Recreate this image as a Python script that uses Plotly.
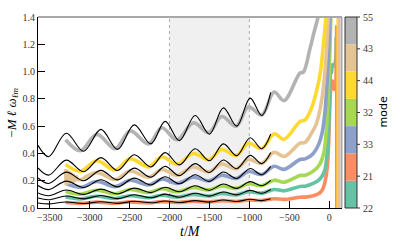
import plotly.graph_objects as go

# ---------------- data ----------------
MODES = ["22", "21", "33", "32", "44", "43", "55"]          # colorbar order, bottom -> top
MODE_COLORS = ["#66c2a5", "#fc8d62", "#8da0cb", "#a6d854", "#ffd92f", "#e5c494", "#b3b3b3"]

# model (black) curves, extrema times
T_MODEL = [-3645, -3512, -3291, -3075, -2858, -2650, -2441, -2233, -2054,
           -1875, -1679, -1500, -1325, -1158, -991, -845, -733]
MODEL_55 = [0.459, 0.376, 0.548, 0.416, 0.576, 0.430, 0.609, 0.470, 0.635,
            0.494, 0.678, 0.541, 0.734, 0.600, 0.805, 0.678, 0.847]
MODEL_44 = [0.294, 0.241, 0.351, 0.266, 0.369, 0.275, 0.390, 0.301, 0.406,
            0.316, 0.434, 0.346, 0.470, 0.384, 0.515, 0.434, 0.542]
MODEL_43 = [0.220, 0.180, 0.263, 0.200, 0.276, 0.206, 0.292, 0.226, 0.305,
            0.237, 0.325, 0.260, 0.352, 0.288, 0.386, 0.325, 0.407]
MODEL_33 = [0.165, 0.135, 0.197, 0.150, 0.207, 0.155, 0.219, 0.169, 0.229,
            0.178, 0.244, 0.195, 0.264, 0.216, 0.290, 0.244, 0.305]
MODEL_32 = [0.110, 0.090, 0.132, 0.100, 0.138, 0.103, 0.146, 0.113, 0.152,
            0.119, 0.163, 0.130, 0.176, 0.144, 0.193, 0.163, 0.203]
MODEL_22 = [0.073, 0.060, 0.088, 0.067, 0.092, 0.069, 0.097, 0.075, 0.102,
            0.079, 0.108, 0.087, 0.117, 0.096, 0.129, 0.108, 0.136]
MODEL_21 = [0.037, 0.030, 0.044, 0.033, 0.046, 0.034, 0.049, 0.038, 0.051,
            0.040, 0.054, 0.043, 0.059, 0.048, 0.064, 0.054, 0.068]

# numerical-relativity (coloured) curves
T_NR = [-3300, -3116, -2908, -2680, -2491, -2262, -2096, -1908, -1700,
        -1508, -1346, -1166, -1012, -845, -690, -566]

NR55_T = T_NR + [-366, -325, -241, -190, -137, -100]
NR55_V = [0.50, 0.42, 0.54, 0.435, 0.565, 0.47, 0.588, 0.50, 0.624, 0.553, 0.67, 0.60,
          0.741, 0.682, 0.85, 0.787, 0.99, 0.995, 1.17, 1.29, 1.41, 1.6]

NR44_T = T_NR + [-366, -304, -230, -158, -110, -75, -41, -25]
NR44_V = [0.320, 0.269, 0.346, 0.278, 0.362, 0.301, 0.376, 0.320, 0.399, 0.354, 0.429,
          0.384, 0.474, 0.436, 0.544, 0.504, 0.634, 0.645, 0.72, 0.86, 1.0, 1.19, 1.41, 1.6]

NR43_T = T_NR[1:] + [-366, -304, -241, -160, -95, -54, -12, 0]
NR43_V = [0.202, 0.259, 0.209, 0.271, 0.226, 0.282, 0.240, 0.300, 0.265, 0.322,
          0.288, 0.356, 0.327, 0.408, 0.378, 0.475, 0.48, 0.53, 0.62, 0.79, 1.0, 1.41, 1.6]
NR43_START_T = [-3300, -3292, -3284, -3274, -3262, -3250, -3236, -3222, -3206,
                -3190, -3172, -3150, -3116]
NR43_START_V = [0.285, 0.17, 0.28, 0.175, 0.27, 0.18, 0.26, 0.185, 0.25,
                0.19, 0.235, 0.21, 0.202]

NR33_T = T_NR + [-366, -300, -200, -130, -90, -55, -25, -5, 8, 15]
NR33_V = [0.180, 0.151, 0.194, 0.157, 0.203, 0.169, 0.212, 0.180, 0.225, 0.199, 0.241,
          0.216, 0.267, 0.246, 0.306, 0.283, 0.356, 0.36, 0.40, 0.47, 0.55, 0.70, 0.95,
          1.2, 1.41, 1.6]

NR32_T = T_NR + [-366, -300, -200, -120, -70, -40, -15, 5, 20, 28]
NR32_V = [0.120, 0.101, 0.130, 0.104, 0.136, 0.113, 0.141, 0.120, 0.150, 0.133, 0.161,
          0.144, 0.178, 0.164, 0.204, 0.189, 0.238, 0.24, 0.27, 0.32, 0.40, 0.55, 0.8,
          1.1, 1.41, 1.6]

NR22_T = T_NR + [-366, -300, -200, -120, -60, -30, -10, 5, 18, 28, 40, 60, 78, 86]
NR22_V = [0.080, 0.067, 0.086, 0.070, 0.090, 0.075, 0.094, 0.080, 0.100, 0.088, 0.107,
          0.096, 0.119, 0.109, 0.136, 0.126, 0.158, 0.16, 0.18, 0.21, 0.27, 0.38, 0.55,
          0.80, 1.03, 0.99, 1.05, 1.04, 1.08, 1.25]

NR21_T = T_NR + [-366, -300, -200, -120, -80, -50, -25, -10, 0, 10, 25, 45, 60, 75]
NR21_V = [0.040, 0.034, 0.043, 0.035, 0.045, 0.038, 0.047, 0.040, 0.050, 0.044, 0.054,
          0.048, 0.059, 0.055, 0.068, 0.063, 0.079, 0.08, 0.09, 0.11, 0.14, 0.2, 0.3,
          0.45, 0.62, 0.80, 0.90, 0.93, 0.87, 0.92]

# ringdown jumps
RD21_T, RD21_V = [75, 84, 85], [0.92, 1.34, -0.1]
RD44_T, RD44_V = [103, 103], [1.5, -0.1]
RD43_T, RD43_V = [121, 121], [1.5, -0.1]

WINDOW = [-2000, -1000]

X_TICKS = [-3500, -3000, -2500, -2000, -1500, -1000, -500, 0]
Y_TICKS = [0.0, 0.2, 0.4, 0.6, 0.8, 1.0, 1.2, 1.4]

# ---------------- figure ----------------
SERIF = "Liberation Serif"
col = dict(zip(MODES, MODE_COLORS))
fig = go.Figure()

nr = [("21", NR21_T, NR21_V), ("22", NR22_T, NR22_V), ("32", NR32_T, NR32_V),
      ("33", NR33_T, NR33_V), ("43", NR43_T, NR43_V), ("44", NR44_T, NR44_V),
      ("55", NR55_T, NR55_V)]
for m, t, v in nr:
    fig.add_trace(go.Scatter(x=t, y=v, mode="lines", showlegend=False, hoverinfo="skip",
                             line=dict(color=col[m], width=3.6, shape="spline", smoothing=1.0)))
fig.add_trace(go.Scatter(x=NR43_START_T, y=NR43_START_V, mode="lines", showlegend=False,
                         hoverinfo="skip", line=dict(color=col["43"], width=3.6)))
for m, t, v in [("21", RD21_T, RD21_V), ("44", RD44_T, RD44_V), ("43", RD43_T, RD43_V)]:
    fig.add_trace(go.Scatter(x=t, y=v, mode="lines", showlegend=False, hoverinfo="skip",
                             line=dict(color=col[m], width=2.2)))

for v in [MODEL_21, MODEL_22, MODEL_32, MODEL_33, MODEL_43, MODEL_44, MODEL_55]:
    fig.add_trace(go.Scatter(x=T_MODEL, y=v, mode="lines", showlegend=False, hoverinfo="skip",
                             line=dict(color="black", width=1.1, shape="spline", smoothing=1.0)))

fig.add_vrect(x0=WINDOW[0], x1=WINDOW[1], fillcolor="#f0f0f0", line_width=0, layer="below")
for w in WINDOW:
    fig.add_vline(x=w, line=dict(color="#999", width=0.8, dash="dot"), layer="below")

# grey frame on top and right
fig.add_shape(type="line", xref="paper", yref="paper", x0=0, x1=1, y0=1, y1=1,
              line=dict(color="#a8a8a8", width=2))
fig.add_shape(type="line", xref="paper", yref="paper", x0=0.9985, x1=0.9985, y0=0, y1=1,
              line=dict(color="#a8a8a8", width=2))

# discrete colourbar drawn in paper coordinates (plot area is 304 px wide)
PW = 304.0
cb_x0, cb_x1 = 1 + 3 / PW, 1 + 15 / PW
n = len(MODES)
for i, c in enumerate(MODE_COLORS):
    fig.add_shape(type="rect", xref="paper", yref="paper", x0=cb_x0, x1=cb_x1,
                  y0=i / n, y1=(i + 1) / n, fillcolor=c, line_width=0)
fig.add_shape(type="rect", xref="paper", yref="paper", x0=cb_x0, x1=cb_x1, y0=0, y1=1,
              line=dict(color="#333", width=1))
for i, m in enumerate(MODES):
    yy = i / (n - 1)
    fig.add_shape(type="line", xref="paper", yref="paper", x0=cb_x1, x1=cb_x1 + 3 / PW,
                  y0=yy, y1=yy, line=dict(color="#333", width=1))
    fig.add_annotation(text=m, xref="paper", yref="paper", x=cb_x1 + 4 / PW, y=yy,
                       xanchor="left", yanchor="middle", showarrow=False,
                       font=dict(family=SERIF, size=10, color="#333"))
fig.add_annotation(text="mode", xref="paper", yref="paper", x=1 + 41 / PW, y=0.5,
                   xanchor="center", yanchor="middle", textangle=-90, showarrow=False,
                   font=dict(family="DejaVu Sans", size=11, color="black"))

fig.update_xaxes(range=[-3645, 159], tickvals=X_TICKS,
                 ticktext=[str(t).replace("-", "−") for t in X_TICKS],
                 ticks="inside", ticklen=7, tickcolor="black", showline=True, linecolor="black",
                 linewidth=1, showgrid=False, zeroline=False,
                 tickfont=dict(family=SERIF, size=10, color="#333"))
fig.update_yaxes(range=[0, 1.4], tickvals=Y_TICKS, ticktext=[f"{t:.1f}" for t in Y_TICKS],
                 ticks="inside", ticklen=7, tickcolor="black", showline=True, linecolor="black",
                 linewidth=1, showgrid=False, zeroline=False,
                 tickfont=dict(family=SERIF, size=10, color="#333"))

fig.add_annotation(text="<i>t</i>/<i>M</i>", xref="paper", yref="paper", x=0.5, y=-0.122,
                   xanchor="center", yanchor="middle", showarrow=False,
                   font=dict(family=SERIF, size=14, color="black"))
fig.add_annotation(text="−<i>M</i> <i>ℓ</i> <i>ω</i><sub><i>ℓm</i></sub>", xref="paper", yref="paper",
                   x=-0.085, y=0.5, xanchor="center", yanchor="middle", textangle=-90,
                   showarrow=False, font=dict(family=SERIF, size=13, color="black"))

fig.update_layout(width=407, height=244, margin=dict(l=38, r=65, t=11, b=36),
                  plot_bgcolor="white", paper_bgcolor="white", hovermode=False)

fig.write_html("out.html", config={"displayModeBar": False, "staticPlot": True},
               post_script="document.body.style.margin='0';document.body.style.overflow='hidden';")
